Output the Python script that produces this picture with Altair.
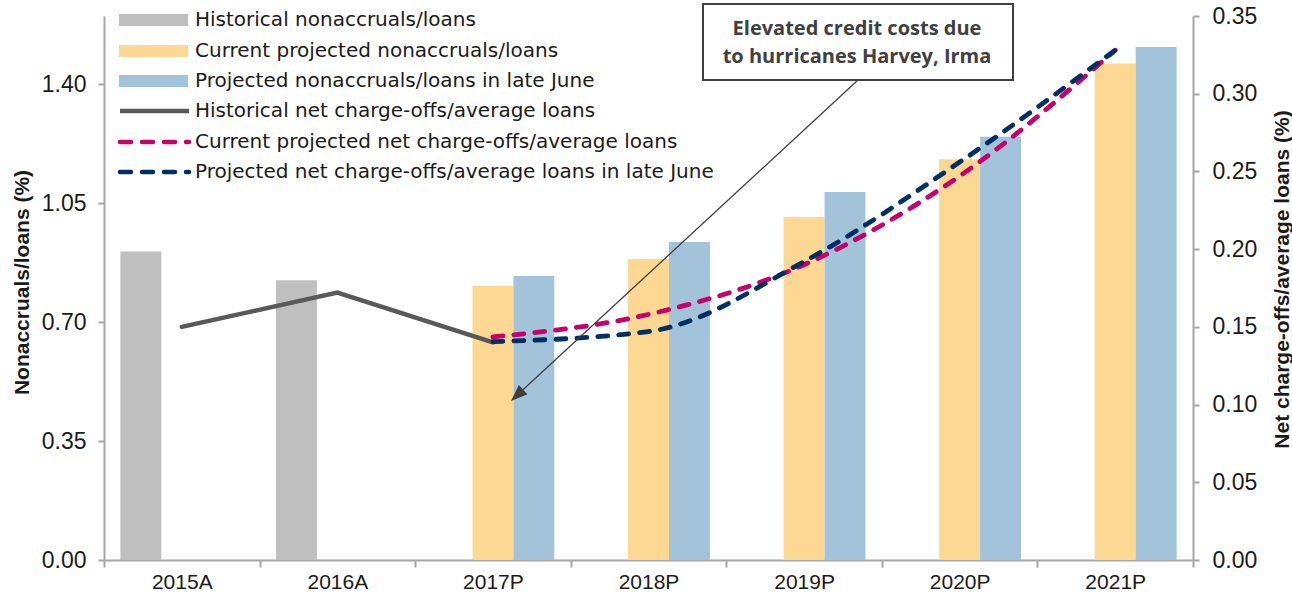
import altair as alt
import pandas as pd

categories = ["2015A", "2016A", "2017P", "2018P", "2019P", "2020P", "2021P"]

bar_series = [
    "Historical nonaccruals/loans",
    "Current projected nonaccruals/loans",
    "Projected nonaccruals/loans in late June",
]
hist_nonaccruals = [0.907, 0.823, None, None, None, None, None]
cur_nonaccruals = [None, None, 0.806, 0.885, 1.009, 1.179, 1.460]
june_nonaccruals = [None, None, 0.835, 0.935, 1.082, 1.245, 1.509]

line_series = [
    "Historical net charge-offs/average loans",
    "Current projected net charge-offs/average loans",
    "Projected net charge-offs/average loans in late June",
]
hist_nco = [0.150, 0.172, 0.140, None, None, None, None]
cur_nco = [None, None, 0.1435, 0.158, 0.190, 0.247, 0.328]
june_nco = [None, None, 0.1405, 0.147, 0.192, 0.256, 0.328]

left_ticks = [0.0, 0.35, 0.70, 1.05, 1.40]
right_ticks = [0.0, 0.05, 0.10, 0.15, 0.20, 0.25, 0.30, 0.35]

annotation_lines = ["Elevated credit costs due", "to hurricanes Harvey, Irma"]

bar_colors = ["#BFBFBF", "#FDD892", "#A2C3DA"]
line_colors = ["#595959", "#C8006B", "#002F63"]

# ---- tables
rows = []
for s, vals in zip(bar_series, [hist_nonaccruals, cur_nonaccruals, june_nonaccruals]):
    for c, v in zip(categories, vals):
        if v is not None:
            rows.append({"cat": c, "series": s, "value": v})
bars_df = pd.DataFrame(rows)

def line_df(vals):
    return pd.DataFrame([{"cat": c, "value": v} for c, v in zip(categories, vals) if v is not None])

FONT = "Liberation Sans"
LFONT = "DejaVu Sans"
AFONT = "Open Sans"
TXT = "#1a1a1a"
AX = "#A6A6A6"

x_enc = alt.X(
    "cat:N",
    sort=categories,
    scale=alt.Scale(domain=categories, paddingInner=0, paddingOuter=0),
    axis=alt.Axis(
        title=None, tickBand="extent", labelAngle=0, domainColor=AX, domainWidth=2,
        tickColor=AX, tickWidth=2, tickSize=7, labelFont=FONT, labelFontSize=21,
        labelColor=TXT, labelPadding=4,
    ),
)

bars = alt.Chart(bars_df).mark_bar().encode(
    x=x_enc,
    xOffset=alt.XOffset("series:N", scale=alt.Scale(domain=bar_series, paddingInner=0, paddingOuter=0.4)),
    y=alt.Y(
        "value:Q",
        scale=alt.Scale(domain=[0, 1.6], nice=False, zero=True),
        axis=alt.Axis(
            title="Nonaccruals/loans (%)", values=left_ticks, format=".2f", grid=False,
            domainColor=AX, domainWidth=2, tickColor=AX, tickWidth=2, tickSize=6,
            labelFont=FONT, labelFontSize=23, labelColor=TXT, labelPadding=12,
            titleFont=FONT, titleFontSize=21, titleFontWeight="bold", titleColor=TXT,
            titlePadding=9, titleY=266,
        ),
    ),
    color=alt.Color("series:N", scale=alt.Scale(domain=bar_series, range=bar_colors), legend=None),
)

right_axis = alt.Axis(
    title="Net charge-offs/average loans (%)", orient="right", values=right_ticks, format=".2f",
    grid=False, domainColor=AX, domainWidth=2, tickColor=AX, tickWidth=2, tickSize=6,
    labelFont=FONT, labelFontSize=23, labelColor=TXT, labelPadding=13,
    titleFont=FONT, titleFontSize=21, titleFontWeight="bold", titleColor=TXT,
    titleAngle=270, titleBaseline="top", titlePadding=15, titleY=263,
)
y_right = alt.Y("value:Q", scale=alt.Scale(domain=[0, 0.35], nice=False, zero=True), axis=right_axis)

l_hist = alt.Chart(line_df(hist_nco)).mark_line(
    color=line_colors[0], strokeWidth=4.5, strokeCap="round"
).encode(x=x_enc, y=y_right)
l_cur = alt.Chart(line_df(cur_nco)).mark_line(
    color=line_colors[1], strokeWidth=4.8, strokeDash=[10, 11], strokeCap="round", interpolate="monotone"
).encode(x=x_enc, y=y_right)
l_june = alt.Chart(line_df(june_nco)).mark_line(
    color=line_colors[2], strokeWidth=4.8, strokeDash=[10, 11], strokeCap="round", interpolate="monotone"
).encode(x=x_enc, y=y_right)

lines = alt.layer(l_hist, l_cur, l_june)

one = pd.DataFrame({"a": [0]})

# ---- legend (manual)
legend_layers = []
row_y = [4, 35, 65, 95, 126, 156]
labels = bar_series + line_series
for i, (lab, yc) in enumerate(zip(labels, row_y)):
    if i < 3:
        legend_layers.append(
            alt.Chart(one).mark_rect(color=bar_colors[i]).encode(
                x=alt.value(15), x2=alt.value(84), y=alt.value(yc - 6), y2=alt.value(yc + 6)
            )
        )
    else:
        kw = dict(color=line_colors[i - 3], strokeWidth=4.5, strokeCap="round")
        if i > 3:
            kw["strokeDash"] = [11, 11]
        else:
            kw["strokeCap"] = "butt"
        legend_layers.append(
            alt.Chart(one).mark_rule(**kw).encode(
                x=alt.value(16), x2=alt.value(85), y=alt.value(yc), y2=alt.value(yc)
            )
        )
    legend_layers.append(
        alt.Chart(one).mark_text(
            text=lab, align="left", baseline="middle", font=LFONT, fontSize=20, color=TXT
        ).encode(x=alt.value(91), y=alt.value(yc))
    )

# ---- annotation
ann = [
    alt.Chart(one).mark_rule(color="#404040", strokeWidth=1.3).encode(
        x=alt.value(754), x2=alt.value(409), y=alt.value(64), y2=alt.value(383)
    ),
    alt.Chart(one).mark_point(
        shape="M0,0L-0.38,1L0.38,1Z", size=1100, angle=227, filled=True, opacity=1, color="#404040"
    ).encode(x=alt.value(407), y=alt.value(385)),
    alt.Chart(one).mark_rect(fill="white", stroke="#404040", strokeWidth=2).encode(
        x=alt.value(599), x2=alt.value(909), y=alt.value(-12), y2=alt.value(64)
    ),
    alt.Chart(one).mark_text(
        text=annotation_lines[0], align="center", baseline="middle", font=AFONT,
        fontSize=20, fontWeight="bold", color="#404040"
    ).encode(x=alt.value(753), y=alt.value(13)),
    alt.Chart(one).mark_text(
        text=annotation_lines[1], align="center", baseline="middle", font=AFONT,
        fontSize=20, fontWeight="bold", color="#404040"
    ).encode(x=alt.value(753), y=alt.value(41)),
]

chart = alt.layer(bars, lines, *legend_layers, *ann).resolve_scale(y="independent").properties(
    width=1089, height=544,
    autosize=alt.AutoSizeParams(type="none"),
    padding={"left": 104, "top": 16, "right": 99, "bottom": 44},
    background="white",
).configure_view(stroke=None)

chart.save("out.html", embed_options={"renderer": "svg", "actions": False})
